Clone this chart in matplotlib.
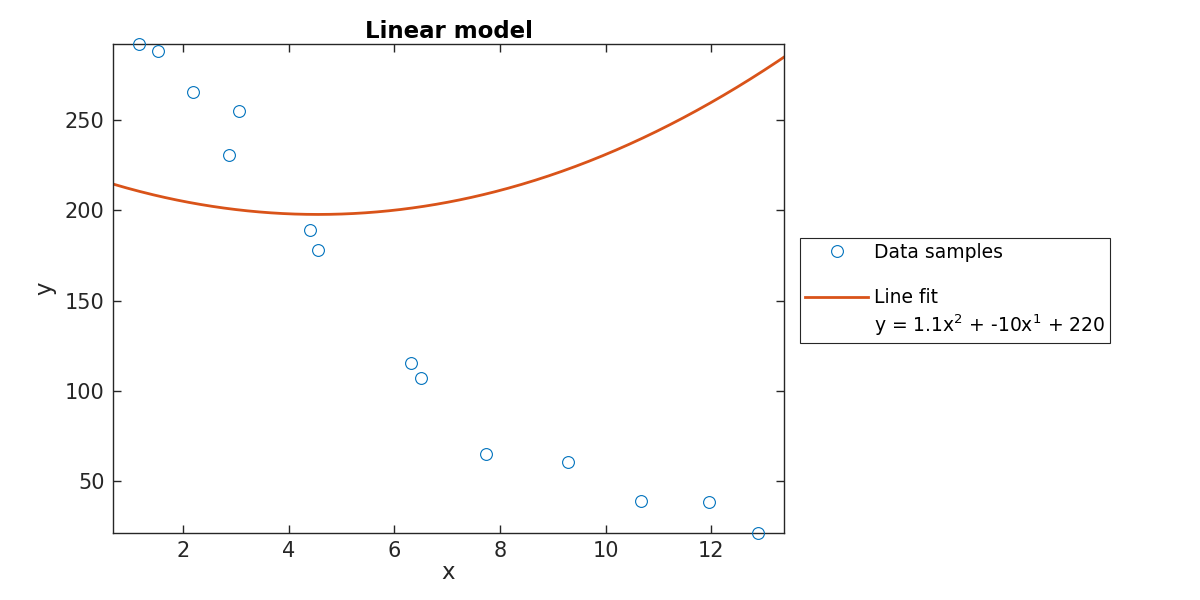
import numpy as np
import matplotlib
matplotlib.use("Agg")
import matplotlib.pyplot as plt

# Data samples
x_data = [1.17, 1.53, 2.19, 3.06, 2.87, 4.40, 4.56, 6.32, 6.51, 7.74, 9.29, 10.68, 11.96, 12.89]
y_data = [292.3, 288.4, 265.6, 255.0, 230.6, 188.9, 178.3, 115.6, 107.2, 65.0, 60.6, 38.9, 38.3, 21.1]

# Fit coefficients (quadratic: a*x^2 + b*x + c)
fit_coeffs = [1.12, -10.2, 221.0]
x_range = [0.674, 13.38]

title = "Linear model"
legend_labels = ["Data samples", "Line fit\ny = 1.1x$^{2}$ + -10x$^{1}$ + 220"]

blue = "#0072BD"
orange = "#D95319"
axcol = "#262626"

fig = plt.figure(figsize=(12, 6), dpi=100)
ax = fig.add_axes([113/1200, 1-533/600, (784-113)/1200, (533-44)/600])

xs = np.linspace(x_range[0], x_range[1], 400)
ys = np.polyval(fit_coeffs, xs)

ax.plot(x_data, y_data, linestyle="none", marker="o", markersize=8.5,
        markerfacecolor="none", markeredgecolor=blue, markeredgewidth=0.8,
        label=legend_labels[0], clip_on=False, zorder=3)
ax.plot(xs, ys, color=orange, linewidth=2, label=legend_labels[1], zorder=2)

ax.set_xlim(x_range)
ax.set_ylim(min(y_data), max(y_data))
ax.set_xticks([2, 4, 6, 8, 10, 12])
ax.set_yticks([50, 100, 150, 200, 250])

for s in ax.spines.values():
    s.set_color(axcol)
    s.set_linewidth(1.0)
ax.tick_params(direction="in", length=6, width=1.0, color=axcol, labelcolor=axcol,
               labelsize=15, top=True, right=True, pad=6)

ax.set_title(title, fontsize=16.5, fontweight="bold", pad=4)
ax.set_xlabel("x", fontsize=16.5, color=axcol, labelpad=0)
ax.set_ylabel("y", fontsize=16.5, color=axcol, labelpad=6)

leg = fig.legend(loc="upper left", bbox_to_anchor=(800/1200, 1-238/600),
                 bbox_transform=fig.transFigure, fontsize=13.5, frameon=True,
                 fancybox=False, edgecolor=axcol, framealpha=1,
                 handlelength=3.4, handletextpad=0.3, borderpad=0.25,
                 labelspacing=1.4, borderaxespad=0)
leg.get_frame().set_linewidth(0.8)
leg_texts = leg.get_texts()
leg_texts[1].set_linespacing(1.3)
# align the line handle with the first line of its two-line label
line_handle = leg.legend_handles[1]
yd = np.asarray(line_handle.get_ydata(), dtype=float)
line_handle.set_ydata(yd + 12.5)

fig.savefig("out.png", dpi=100)
